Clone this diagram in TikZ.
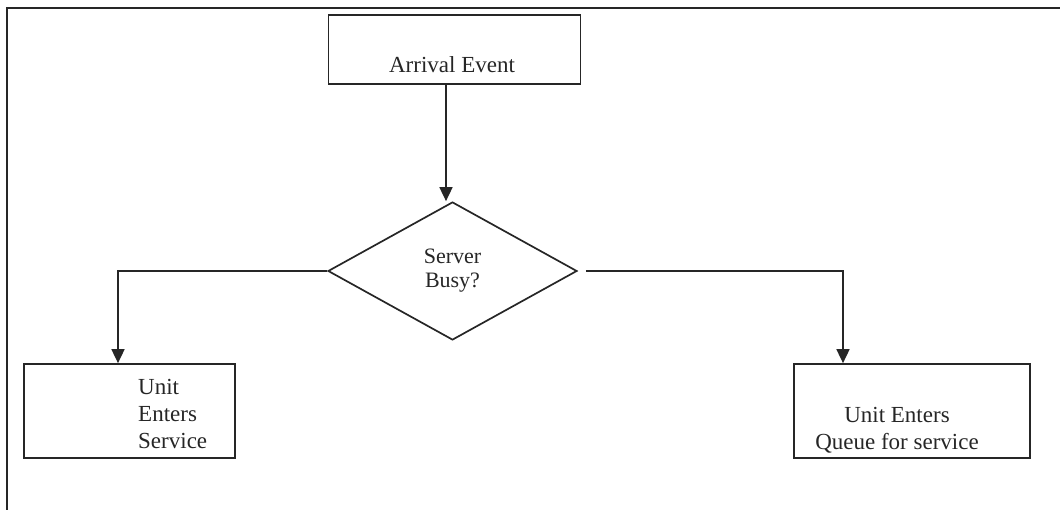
\documentclass[tikz,border=0pt]{standalone}
\usepackage{fontspec}
\setmainfont{Liberation Serif}
\usetikzlibrary{shapes.geometric,arrows.meta}
\tikzset{
  line/.style={draw=black!85, line width=1.7pt},
  arr/.style={line, -{Triangle[length=14pt,width=13pt]}},
  boxnode/.style={line, rectangle, inner sep=0pt},
  txt/.style={inner sep=0pt, text=black!85, font=\fontsize{23}{27}\selectfont},
}
\begin{document}
\begin{tikzpicture}[x=1pt,y=-1pt]
\useasboundingbox (0,0) rectangle (1060,510);
% frame (top and left edges)
\coordinate (fa) at (1060,8);
\coordinate (fb) at (7,8);
\coordinate (fc) at (7,510);
\draw[line] (fa) -- (fb) -- (fc);
% boxes
\node[boxnode, minimum width=252pt, minimum height=69pt] (arrival) at (454.5,49.5) {};
\node[txt, anchor=base] (arrivaltxt) at (452,73) {Arrival Event};
\node[line, diamond, inner sep=0pt, minimum width=249pt, minimum height=138pt,
      txt, align=center, font=\fontsize{22}{24}\selectfont] (busy) at (452.5,271) {Server\\Busy?};
\node[boxnode, minimum width=211pt, minimum height=94pt] (service) at (129.5,411) {};
\node[txt, anchor=north west, align=left] (servicetxt) at (138,379) {Unit\\Enters\\Service};
\node[boxnode, minimum width=236pt, minimum height=94pt] (queue) at (912,411) {};
\node[txt, anchor=north, align=center] (queuetxt) at (897,407) {Unit Enters\\Queue for service};
% connectors
\coordinate (vx) at (446,0);
\draw[arr] (arrival.south -| vx) -- (busy.north -| vx);
\draw[arr] (busy.west) -| ([xshift=-11.5pt]service.north);
\draw[arr] ([xshift=8pt]busy.east) -| ([xshift=-69pt]queue.north);
\end{tikzpicture}
\end{document}
